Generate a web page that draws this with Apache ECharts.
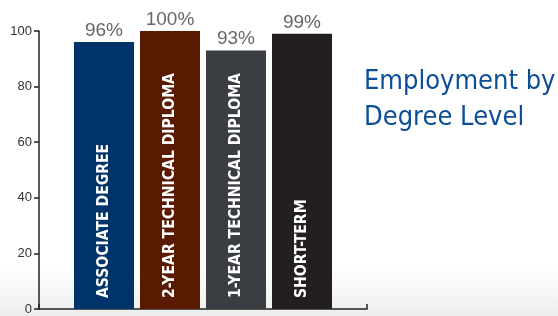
<!DOCTYPE html>
<html lang="en">
<head>
    <meta charset="UTF-8">
    <title>Employment by Degree Level</title>
    <style>
        html, body { margin: 0; padding: 0; background: #fff; }
        #main { width: 558px; height: 316px; }
    </style>
</head>
<body>
    <div id="main"></div>
    <script src="https://cdn.jsdelivr.net/npm/echarts@6/dist/echarts.min.js"></script>
    <script>
    var degrees = ['ASSOCIATE DEGREE', '2-YEAR TECHNICAL DIPLOMA', '1-YEAR TECHNICAL DIPLOMA', 'SHORT-TERM'];
    var employed = [96, 100, 93, 99];
    var barColors = ['#003369', '#5a1a02', '#3a3d42', '#231f20'];
    var yTicks = [0, 20, 40, 60, 80, 100];

    var myChart = echarts.init(document.getElementById('main'));

    var series = degrees.map(function(name, i) {
        return {
            name: name,
            type: 'bar',
            data: [employed[i]],
            barWidth: 60,
            barGap: '10%',
            itemStyle: { color: barColors[i] },
            label: {
                show: true,
                position: 'insideBottom',
                distance: 11,
                rotate: 90,
                align: 'left',
                verticalAlign: 'middle',
                formatter: name,
                color: '#fff',
                fontFamily: 'DejaVu Sans Condensed',
                fontWeight: 'bold',
                fontSize: 15.6
            },
            markPoint: {
                symbol: 'circle',
                symbolSize: 0,
                silent: true,
                label: {
                    show: true,
                    position: 'top',
                    distance: 2,
                    formatter: '{c}%',
                    color: '#666',
                    fontFamily: 'Liberation Sans',
                    fontSize: 19
                },
                data: [{ type: 'max' }]
            }
        };
    });

    var option = {
        animation: false,
        backgroundColor: new echarts.graphic.LinearGradient(0, 0, 0, 1, [
            { offset: 0, color: '#ffffff' },
            { offset: 0.85, color: '#ffffff' },
            { offset: 1, color: '#ededed' }
        ]),
        title: {
            text: 'Employment by\nDegree Level',
            left: 359,
            top: 59,
            textStyle: {
                color: '#0b4e96',
                fontFamily: 'DejaVu Sans Condensed',
                fontWeight: 'normal',
                fontSize: 27,
                lineHeight: 36
            }
        },
        grid: {
            left: 39,
            right: 191,
            top: 31,
            bottom: 7,
            containLabel: false
        },
        xAxis: {
            type: 'category',
            data: [''],
            axisLine: { lineStyle: { color: '#222', width: 1.5 } },
            axisTick: { show: true, inside: true, length: 5, lineStyle: { color: '#222', width: 1.5 } },
            axisLabel: { show: false }
        },
        yAxis: {
            type: 'value',
            min: yTicks[0],
            max: yTicks[yTicks.length - 1],
            interval: yTicks[1] - yTicks[0],
            axisLine: { show: true, lineStyle: { color: '#222', width: 1.5 } },
            axisTick: { show: true, length: 5, lineStyle: { color: '#222', width: 1.5 } },
            axisLabel: {
                color: '#333',
                fontFamily: 'Liberation Sans',
                fontSize: 13,
                margin: 7
            },
            splitLine: { show: false }
        },
        series: series
    };

    myChart.setOption(option);
    </script>
</body>
</html>
